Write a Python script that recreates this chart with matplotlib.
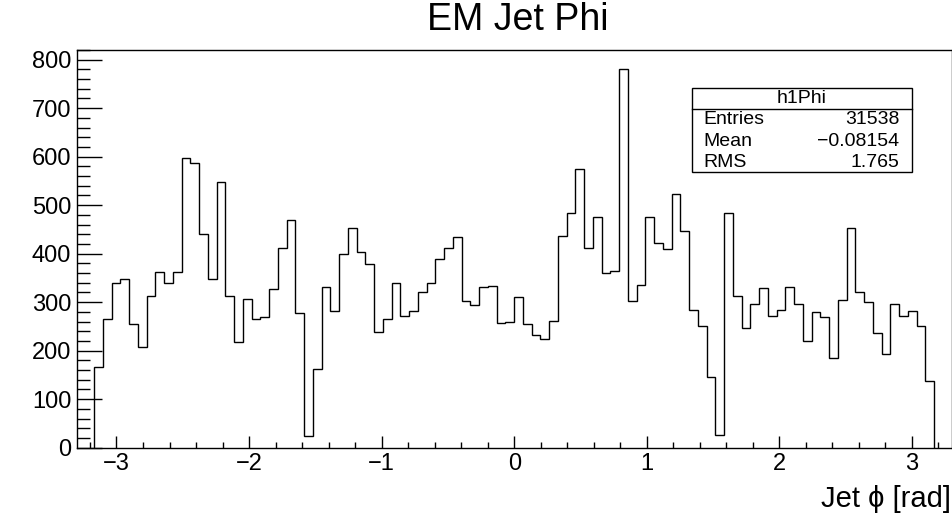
import numpy as np
import matplotlib
matplotlib.use("Agg")
import matplotlib.pyplot as plt
from matplotlib.ticker import MultipleLocator
from matplotlib.patches import Rectangle
from matplotlib.lines import Line2D

plt.rcParams['font.family'] = ['Liberation Sans', 'DejaVu Sans']

# histogram h1Phi: 100 bins from -3.3 to 3.3, outer two bins on each side empty
n_bins = 100
x_lo, x_hi = -3.3, 3.3
counts = [167, 265, 340, 347, 254, 207, 312, 362, 340, 362,
          598, 586, 441, 347, 548, 313, 217, 306, 265, 269,
          328, 412, 469, 277, 25, 162, 331, 281, 399, 452,
          403, 378, 239, 265, 340, 271, 281, 320, 340, 390,
          412, 435, 303, 294, 331, 333, 258, 260, 311, 256,
          232, 224, 261, 436, 484, 575, 412, 476, 361, 364,
          781, 302, 335, 476, 422, 409, 524, 447, 283, 251,
          146, 26, 484, 313, 247, 297, 330, 272, 284, 332,
          296, 221, 280, 269, 185, 305, 452, 320, 300, 236,
          193, 296, 272, 281, 251, 138]
first_bin = 2

stat_names = ["Entries", "Mean", "RMS"]
stat_values = ["31538", "\u22120.08154", "1.765"]

edges = np.linspace(x_lo, x_hi, n_bins + 1)
edges = edges[first_bin:first_bin + len(counts) + 1]

fig = plt.figure(figsize=(9.53, 5.15), dpi=100)
ax = fig.add_axes([0.0805, 0.1307, 0.9181, 0.7723])

ax.stairs(counts, edges, color='black', linewidth=1.0, baseline=0)

ax.set_xlim(x_lo, x_hi)
ax.set_ylim(0, 1.05 * max(counts))

# ROOT style ticks
ax.xaxis.set_major_locator(MultipleLocator(1))
ax.xaxis.set_minor_locator(MultipleLocator(0.2))
ax.yaxis.set_major_locator(MultipleLocator(100))
ax.yaxis.set_minor_locator(MultipleLocator(20))
ax.tick_params(axis='x', which='major', direction='in', length=9, width=1, labelsize=17, pad=4)
ax.tick_params(axis='x', which='minor', direction='in', length=4.5, width=1)
ax.tick_params(axis='y', which='major', direction='in', length=18, width=1, labelsize=17, pad=4)
ax.tick_params(axis='y', which='minor', direction='in', length=9, width=1)
for s in ax.spines.values():
    s.set_linewidth(1)

# title and axis label
fig.text(0.5436, 0.962, "EM Jet Phi", ha='center', va='center', fontsize=27)
fig.text(0.998, 0.016, "Jet \u03d5 [rad]", ha='right', va='baseline', fontsize=21)

# stats box
bx0, bx1 = 0.7258, 0.9573
by0, by1 = 0.6654, 0.8297
fig.patches.append(Rectangle((bx0, by0), bx1 - bx0, by1 - by0, transform=fig.transFigure,
                             facecolor='white', edgecolor='black', linewidth=1, zorder=5))
fig.lines.append(Line2D([bx0, bx1], [0.7883, 0.7883], transform=fig.transFigure,
                        color='black', linewidth=1, zorder=6))
fig.text((bx0 + bx1) / 2, 0.8087, "h1Phi", ha='center', va='center', fontsize=14, zorder=7)
row_y = [0.767, 0.7262, 0.6854]
for name, val, y in zip(stat_names, stat_values, row_y):
    fig.text(0.7377, y, name, ha='left', va='center', fontsize=14, zorder=7)
    fig.text(0.9437, y, val, ha='right', va='center', fontsize=14, zorder=7)

fig.savefig("out.png", dpi=100)
